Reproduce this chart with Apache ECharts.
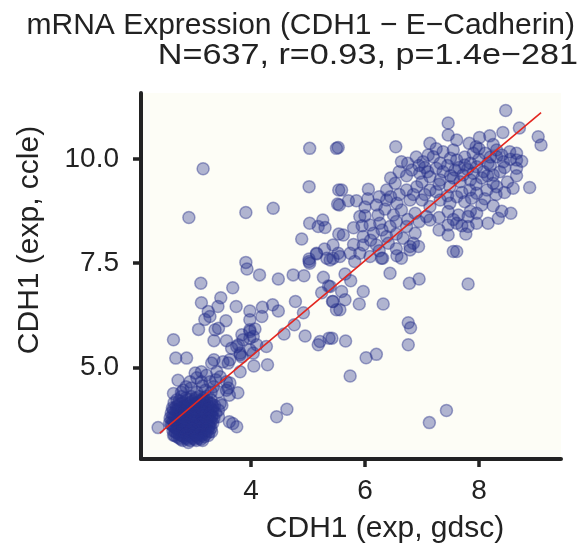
<!DOCTYPE html>
<html><head><meta charset="utf-8">
<script src="https://cdn.jsdelivr.net/npm/echarts@6/dist/echarts.min.js"></script>
<style>html,body{margin:0;padding:0;background:#fff}#c{width:583px;height:554px}</style>
</head><body><div id="c"></div>
<script>
const titleLines = ['mRNA Expression (CDH1 \u2212 E\u2212Cadherin)', 'N=637, r=0.93, p=1.4e\u2212281'];
const xName = 'CDH1 (exp, gdsc)';
const yName = 'CDH1 (exp, ccle)';
const xTicks = [4, 6, 8];
const yTicks = [5.0, 7.5, 10.0];
const fitX = [2.40, 9.09];
const fitY = [3.42, 11.12];

const upperPoints = [
[5.03,10.26],[5.50,10.26],[3.16,9.77],[5.02,9.34],[5.54,9.26],[5.52,8.92],[2.91,8.60],[3.91,8.72],[4.39,8.82],[5.03,8.46],[5.26,8.54],[5.18,8.38],[5.30,8.36],[5.54,8.20],[4.89,8.08],[5.29,7.84],[5.44,7.94],[5.15,7.74],[5.02,7.60],[5.03,7.50],[3.91,7.52],[5.33,7.62],[5.44,7.62],[5.53,7.74],
[8.47,11.17],[7.46,10.87],[8.71,10.75],[9.04,10.54],[9.09,10.34],[8.42,10.64],[8.19,10.56],[8.01,10.52],[7.46,10.58],[7.61,10.46],[7.83,10.38],[7.14,10.38],[6.54,10.30],[5.53,10.28],[7.37,10.18],[7.55,10.22],[7.90,10.14],[8.11,10.14],[8.31,10.22],[8.54,10.18],[8.66,10.14],[6.64,9.94],[7.02,9.94],[7.20,10.06],[7.11,10.10],[7.32,9.90],[7.61,9.98],[7.75,9.86],[7.96,9.82],[8.16,9.90],[8.31,10.06],[8.43,9.94],[8.66,9.98],[8.66,9.78],[8.66,9.60],[8.89,9.32],[6.82,9.74],[6.73,9.60],[6.96,9.66],[7.14,9.58],[7.37,9.70],[7.58,9.74],[7.72,9.62],[7.90,9.66],[8.08,9.70],[8.25,9.62],[8.37,9.70],[8.25,9.42],[8.14,9.26],[8.31,9.34],[6.53,9.42],[6.38,9.26],[6.73,9.26],[6.91,9.34],[7.14,9.26],[7.32,9.50],[7.49,9.34],[7.67,9.46],[7.84,9.26],[7.96,9.18],[5.59,9.26],[6.06,9.28],[5.71,9.00],[5.55,8.90],[6.20,8.90],[6.38,9.02],[6.56,8.94],[6.79,9.02],[7.00,9.02],[7.14,8.86],[7.32,9.02],[7.49,8.94],[7.61,9.10],[7.75,8.98],[7.87,9.06],[8.25,8.88],[5.91,8.62],[6.00,8.64],[6.23,8.66],[6.50,8.66],[6.64,8.78],[6.88,8.70],[7.08,8.62],[7.14,8.54],[7.46,8.74],[7.64,8.66],[7.81,8.62],[7.96,8.70],[8.34,8.58],[8.56,8.70],[8.16,8.46],[6.09,8.42],[6.26,8.46],[6.44,8.38],[6.73,8.38],[6.88,8.22],[7.46,8.42],[7.61,8.46],[7.81,8.38],[7.96,8.46],[7.46,8.18],[7.77,8.20],[5.62,8.18],[5.97,8.14],[6.15,8.22],[6.38,8.14],[6.67,8.10],[6.85,7.98],[5.97,7.94],[6.20,7.94],[6.41,7.98],[6.79,7.90],[6.94,7.90],[5.74,7.74],[5.91,7.74],[6.09,7.66],[6.29,7.62],[6.56,7.68],[6.64,7.62],[7.55,7.78],[7.61,7.78],[5.82,7.54],[5.56,7.66],[5.39,7.58]
];

const bandPoints = [
[7.05,9.80],[7.25,9.78],[7.45,9.85],[7.65,9.80],[7.85,9.90],[8.00,10.00],[8.20,10.05],[8.40,10.10],[8.05,9.55],[7.85,9.50],[7.55,9.55],[7.30,9.40],[7.00,9.45],[6.85,9.15],[7.05,9.15],[7.25,9.22],[7.45,9.12],[7.70,9.20],[7.95,9.40],[8.15,9.60],[8.45,9.80],[8.55,10.00],[8.20,9.85],[7.75,10.05],[7.50,10.02],[7.25,10.25],[7.95,10.30],[8.25,10.35],[8.00,10.25],[6.95,9.85],[6.75,9.90],[6.60,9.70],[6.45,9.10],[6.60,9.15],[6.25,9.10],[6.05,9.05],[5.85,9.00],[6.00,8.85],[6.35,8.80],[6.75,8.55],[6.95,8.50],[7.30,8.60],[7.55,8.55],[7.70,8.40],[7.30,8.30],[6.55,8.50],[6.30,8.30],[6.55,8.20],[6.10,8.05],[5.80,7.95],[6.25,7.80],[6.55,7.85],[5.95,8.40],[5.80,8.35],[6.45,9.55],[6.90,10.05],[8.75,9.95],[8.50,9.45],[8.45,9.20],[8.60,9.30],[8.40,8.75],[8.05,8.90],[7.85,8.75],[8.10,9.05],[7.10,9.70],[7.50,9.60],[7.80,9.75],[8.30,9.15]
];

const midPoints = [
[3.93,7.36],[4.15,7.22],[4.48,7.12],[4.74,7.22],[4.93,7.20],[5.02,7.54],[5.15,7.72],[5.27,7.16],[5.36,6.95],[5.24,6.79],[5.43,6.58],[5.50,6.38],[3.12,7.02],[3.68,6.91],[3.47,6.67],[3.13,6.55],[3.25,6.34],[3.19,6.15],[3.28,6.22],[3.42,6.46],[3.74,6.46],[3.98,6.35],[4.20,6.44],[4.38,6.50],[4.48,6.35],[4.78,6.58],[4.92,6.31],[3.56,6.12],[3.98,6.14],[4.19,6.22],[3.08,5.91],[3.43,5.94],[3.98,5.90],[4.07,5.92],[4.76,6.02],[4.58,5.80],[4.95,5.75],[2.64,5.66],[3.35,5.64],[3.57,5.64],[3.86,5.66],[3.98,5.70],[4.10,5.54],[3.75,5.50],[3.81,5.34],[4.04,5.34],[4.27,5.50],[5.18,5.54],[5.37,5.70],[5.21,5.62],[2.68,5.22],[2.87,5.22],[3.35,5.18],[3.51,5.13],[3.60,5.10],[3.84,5.25],[4.05,5.03],[4.29,5.06],[3.81,4.89],[3.02,4.86],[3.13,4.89],[3.22,4.81],[3.28,4.65],[3.46,4.77],[3.57,4.65],[2.72,4.69],[2.93,4.65],[2.64,4.37],[2.81,4.45],[3.34,4.53],[3.60,4.50],[3.62,4.33],[3.77,4.39],[3.46,4.13],[3.43,3.97],[4.45,3.81],[4.63,3.99],[3.62,3.69],[3.68,3.65],[3.75,3.57],[2.37,3.55],[2.64,3.37],[2.90,3.19],[3.31,3.45],
[6.31,7.62],[6.79,7.82],[6.44,7.26],[6.78,7.02],[6.95,7.12],[7.81,7.00],[5.65,7.24],[5.75,7.08],[5.39,6.94],[5.59,6.82],[5.97,6.82],[5.65,6.62],[5.44,6.58],[5.56,6.38],[5.90,6.52],[6.32,6.52],[6.76,6.07],[6.80,5.95],[6.76,5.54],[5.42,5.70],[5.66,5.63],[6.02,5.23],[6.20,5.31],[5.74,4.79],[7.43,3.96],[7.13,3.67],
[2.86,4.53],[3.13,4.65],[3.40,4.89],[3.31,5.10],[3.63,5.18],[3.81,5.30],[3.66,5.46],[3.78,5.54],[3.98,5.42],[3.37,5.90],[3.98,5.86],[3.84,5.78],[4.04,5.74],[3.43,3.81],[3.49,4.09],[3.43,4.41],[3.57,4.45],[3.63,4.62],
[3.05,4.40],[3.20,4.45],[2.95,4.50],[3.15,4.55],[3.30,4.40],[2.78,4.40],[3.38,4.70],[3.05,4.75]
];

const clusterPoints = [
[2.78,4.30],[2.95,4.30],[3.10,4.30],[3.22,4.30],
[2.70,4.22],[2.88,4.22],[3.02,4.22],[3.15,4.22],[3.30,4.22],
[2.65,4.15],[2.80,4.15],[2.93,4.15],[3.05,4.15],[3.18,4.15],[3.27,4.15],
[2.72,4.08],[2.86,4.08],[2.99,4.08],[3.11,4.08],[3.24,4.08],[3.36,4.08],
[2.62,4.02],[2.77,4.02],[2.91,4.02],[3.04,4.02],[3.16,4.02],[3.29,4.02],
[2.68,3.96],[2.83,3.96],[2.96,3.96],[3.08,3.96],[3.21,3.96],[3.33,3.96],
[2.60,3.90],[2.74,3.90],[2.88,3.90],[3.01,3.90],[3.13,3.90],[3.26,3.90],[3.38,3.90],
[2.66,3.84],[2.80,3.84],[2.93,3.84],[3.06,3.84],[3.19,3.84],[3.31,3.84],
[2.58,3.78],[2.72,3.78],[2.85,3.78],[2.98,3.78],[3.10,3.78],[3.23,3.78],[3.35,3.78],
[2.64,3.72],[2.78,3.72],[2.91,3.72],[3.03,3.72],[3.16,3.72],[3.28,3.72],
[2.57,3.66],[2.70,3.66],[2.84,3.66],[2.96,3.66],[3.09,3.66],[3.21,3.66],[3.33,3.66],
[2.62,3.60],[2.76,3.60],[2.89,3.60],[3.01,3.60],[3.14,3.60],[3.26,3.60],
[2.68,3.54],[2.81,3.54],[2.94,3.54],[3.06,3.54],[3.19,3.54],[3.30,3.54],
[2.63,3.48],[2.75,3.48],[2.87,3.48],[2.99,3.48],[3.12,3.48],[3.24,3.48],
[2.70,3.42],[2.82,3.42],[2.95,3.42],[3.07,3.42],[3.18,3.42],
[2.66,3.36],[2.78,3.36],[2.90,3.36],[3.02,3.36],[3.13,3.36],[3.25,3.36],
[2.74,3.30],[2.86,3.30],[2.98,3.30],[3.09,3.30],
[2.80,3.24],[2.93,3.24],[3.04,3.24],[3.15,3.24],
[2.90,3.80],[3.00,3.70],[2.95,3.62],[3.05,3.88],[2.85,3.55],[3.10,3.65],[2.97,3.93],[3.02,3.50],[2.88,3.68],[3.12,3.78],[2.93,3.45],[3.08,3.40],[2.82,3.85],[3.15,3.95],[2.99,4.05],[3.03,3.58],[2.91,3.75],[3.07,3.72],[2.96,3.83],[2.86,3.62]
];

const clusterCore = [
[2.86,4.26],[3.03,4.26],[3.17,4.26],
[2.74,4.19],[2.97,4.19],[3.10,4.19],[3.23,4.19],
[2.76,4.12],[2.89,4.12],[3.02,4.12],[3.14,4.12],[3.31,4.12],
[2.69,4.05],[2.83,4.05],[2.95,4.05],[3.07,4.05],[3.20,4.05],[3.33,4.05],
[2.64,3.99],[2.73,3.99],[2.87,3.99],[3.00,3.99],[3.12,3.99],[3.25,3.99],
[2.70,3.93],[2.84,3.93],[2.93,3.93],[3.06,3.93],[3.18,3.93],[3.30,3.93],
[2.63,3.87],[2.77,3.87],[2.90,3.87],[3.03,3.87],[3.16,3.87],[3.28,3.87],
[2.69,3.81],[2.82,3.81],[2.95,3.81],[3.08,3.81],[3.20,3.81],[3.32,3.81],
[2.61,3.75],[2.75,3.75],[2.88,3.75],[3.01,3.75],[3.13,3.75],[3.25,3.75],
[2.67,3.69],[2.81,3.69],[2.94,3.69],[3.06,3.69],[3.18,3.69],[3.30,3.69],
[2.60,3.63],[2.73,3.63],[2.86,3.63],[2.99,3.63],[3.11,3.63],[3.23,3.63],
[2.65,3.57],[2.79,3.57],[2.92,3.57],[3.04,3.57],[3.16,3.57],[3.27,3.57],
[2.71,3.51],[2.84,3.51],[2.97,3.51],[3.09,3.51],[3.21,3.51],
[2.67,3.45],[2.79,3.45],[2.91,3.45],[3.03,3.45],[3.15,3.45],[3.27,3.45],
[2.74,3.39],[2.86,3.39],[2.98,3.39],[3.10,3.39],[3.21,3.39],
[2.70,3.33],[2.82,3.33],[2.94,3.33],[3.06,3.33],[3.18,3.33],
[2.77,3.27],[2.89,3.27],[3.01,3.27],[3.12,3.27]
];

const FONT = '"Liberation Sans", Arial, Helvetica, sans-serif';
const TXT = '#222222';
const ptStyle = {color: 'rgba(40,50,140,0.45)', borderColor: 'rgba(40,50,140,0.55)', borderWidth: 1.5};
const chart = echarts.init(document.getElementById('c'), null, {renderer: 'canvas'});
const allPoints = clusterPoints.concat(clusterCore, midPoints, upperPoints, bandPoints);
const titleStyle = {fontFamily: FONT, fontSize: 30, fontWeight: 'normal', color: TXT};
chart.setOption({
  animation: false,
  backgroundColor: '#ffffff',
  title: [
    {text: titleLines[0], right: 3, top: 6, textStyle: titleStyle}
  ],
  grid: {left: 141, right: 22, top: 93, bottom: 95, show: true, backgroundColor: '#fdfdf6', borderWidth: 0},
  xAxis: {
    type: 'value', min: 2.07, max: 9.44,
    splitLine: {show: false},
    axisLine: {show: true, lineStyle: {color: TXT, width: 4}},
    axisTick: {show: true, length: 8, lineStyle: {color: TXT, width: 3.5}, customValues: xTicks},
    axisLabel: {customValues: xTicks, fontFamily: FONT, fontSize: 28, color: TXT, margin: 18}
  },
  yAxis: {
    type: 'value', min: 2.796, max: 11.59,
    splitLine: {show: false},
    axisLine: {show: true, lineStyle: {color: TXT, width: 4}},
    axisTick: {show: true, length: 8, lineStyle: {color: TXT, width: 3.5}, customValues: yTicks},
    axisLabel: {customValues: yTicks, fontFamily: FONT, fontSize: 28, color: TXT, margin: 22,
      formatter: v => Number(v).toFixed(1)}
  },
  graphic: [
    {type: 'text', x: 578, y: 56, scaleX: 1.14, style: {text: titleLines[1], fontFamily: FONT, fontSize: 30, fill: TXT, align: 'right', verticalAlign: 'middle'}},
    {type: 'text', x: 385, y: 529, style: {text: xName, fontFamily: FONT, fontSize: 30, fill: TXT, align: 'center', verticalAlign: 'middle'}},
    {type: 'text', x: 30, y: 240, rotation: Math.PI / 2, style: {text: yName, fontFamily: FONT, fontSize: 30, fill: TXT, align: 'center', verticalAlign: 'middle'}}
  ],
  series: [
    {type: 'scatter', data: allPoints, symbolSize: 12, itemStyle: ptStyle, z: 2},
    {type: 'line', data: fitX.map((x, i) => [x, fitY[i]]), symbol: 'none', lineStyle: {color: '#e3261f', width: 1.6}, z: 3}
  ]
});
</script></body></html>
